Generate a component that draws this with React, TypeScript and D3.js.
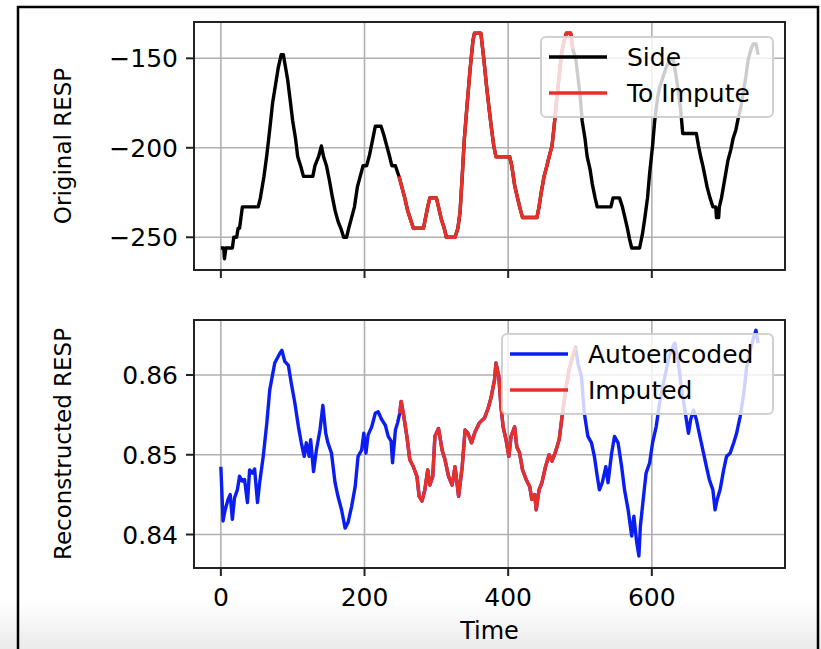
import * as d3 from "d3";

// original RESP signal (time, value) - step like
const sideT = [0, 4, 5, 7, 16, 18, 22, 24, 26, 28, 30, 52, 55, 60, 64, 68, 72, 76, 80, 84, 87, 90, 93, 97, 100, 104, 107, 111, 115, 128, 131, 136, 140, 143, 147, 151, 155, 159, 163, 167, 171, 175, 178, 182, 186, 190, 194, 198, 203, 207, 211, 215, 223, 227, 231, 235, 238, 243, 248, 252, 256, 260, 264, 268, 282, 285, 288, 291, 300, 303, 307, 311, 314, 326, 330, 333, 336, 339, 343, 347, 351, 353, 362, 366, 370, 374, 377, 380, 383, 402, 405, 409, 413, 416, 420, 440, 443, 446, 450, 454, 457, 461, 464, 467, 471, 474, 478, 481, 487, 490, 494, 497, 500, 503, 507, 510, 514, 517, 521, 524, 543, 546, 555, 559, 562, 566, 569, 572, 583, 587, 590, 594, 597, 601, 604, 608, 611, 616, 620, 625, 630, 633, 636, 640, 643, 662, 665, 668, 671, 674, 677, 681, 685, 689, 690, 693, 694, 697, 700, 703, 706, 710, 713, 717, 720, 724, 727, 731, 734, 738, 741, 745, 748];
const sideV = [-256, -256, -262, -256, -256, -250, -250, -245, -245, -239, -233, -233, -228, -216, -204, -190, -175, -165, -155, -148, -148, -155, -162, -175, -185, -195, -205, -210, -216, -216, -210, -205, -199, -205, -210, -218, -227, -235, -241, -245, -250, -250, -245, -239, -233, -222, -216, -210, -210, -204, -196, -188, -188, -193, -199, -205, -210, -210, -216, -222, -228, -235, -240, -245, -245, -239, -233, -228, -228, -233, -240, -245, -250, -250, -245, -236, -216, -195, -175, -156, -140, -136, -136, -150, -166, -180, -190, -199, -205, -205, -210, -221, -228, -233, -239, -239, -233, -225, -216, -210, -205, -199, -188, -175, -160, -148, -140, -136, -136, -145, -150, -160, -170, -185, -195, -205, -212, -220, -228, -233, -233, -228, -228, -233, -238, -245, -251, -256, -256, -248, -240, -228, -214, -199, -185, -172, -166, -160, -155, -151, -151, -158, -166, -178, -192, -192, -199, -205, -210, -216, -222, -228, -233, -233, -239, -239, -233, -228, -221, -214, -207, -201, -195, -190, -184, -177, -170, -160, -151, -145, -142, -142, -148];
const imputeRange = [248, 490];

// reconstructed RESP (autoencoder output)
const recT = [0, 3, 6, 10, 13, 16, 19, 23, 26, 30, 33, 37, 40, 44, 47, 51, 54, 59, 64, 68, 75, 82, 85, 89, 94, 98, 103, 108, 112, 116, 119, 123, 125, 129, 133, 138, 142, 146, 149, 154, 159, 163, 168, 173, 177, 182, 187, 191, 196, 199, 202, 205, 210, 215, 219, 224, 229, 233, 237, 239, 243, 246, 249, 251, 254, 259, 263, 268, 273, 276, 280, 284, 288, 291, 295, 298, 303, 308, 312, 317, 322, 326, 331, 336, 340, 344, 349, 354, 360, 367, 372, 376, 381, 383, 387, 390, 393, 397, 401, 404, 409, 412, 416, 420, 425, 430, 433, 437, 439, 443, 447, 452, 457, 461, 466, 471, 475, 480, 485, 491, 494, 497, 502, 506, 511, 516, 520, 524, 527, 531, 536, 539, 544, 548, 553, 558, 562, 567, 572, 575, 579, 582, 584, 588, 592, 597, 601, 606, 610, 615, 620, 624, 629, 632, 637, 641, 646, 651, 654, 658, 662, 666, 671, 676, 680, 685, 688, 691, 695, 700, 704, 709, 714, 718, 723, 728, 732, 737, 742, 745, 748];
const recV = [0.8485, 0.8417, 0.8431, 0.8444, 0.845, 0.8419, 0.8446, 0.8456, 0.8473, 0.8467, 0.8469, 0.844, 0.8481, 0.8477, 0.8482, 0.844, 0.8465, 0.8498, 0.854, 0.8581, 0.8615, 0.8627, 0.8631, 0.8617, 0.8612, 0.859, 0.8565, 0.8535, 0.8515, 0.8498, 0.8515, 0.8498, 0.8519, 0.8479, 0.8506, 0.8531, 0.8562, 0.8527, 0.8515, 0.8502, 0.8465, 0.8448, 0.8431, 0.8408, 0.8415, 0.8435, 0.846, 0.8498, 0.8506, 0.8527, 0.8502, 0.8525, 0.8535, 0.8552, 0.8554, 0.8544, 0.8537, 0.8523, 0.8517, 0.849, 0.8531, 0.854, 0.8552, 0.8567, 0.8552, 0.8523, 0.8494, 0.8485, 0.8473, 0.8448, 0.8442, 0.8456, 0.8481, 0.8462, 0.8473, 0.8523, 0.8533, 0.8506, 0.8494, 0.8473, 0.8462, 0.8485, 0.8448, 0.8485, 0.8531, 0.8527, 0.8515, 0.8529, 0.854, 0.8546, 0.8558, 0.8571, 0.8594, 0.8615, 0.8598, 0.856, 0.8535, 0.8519, 0.8498, 0.8523, 0.8535, 0.851, 0.8502, 0.8481, 0.8469, 0.846, 0.8444, 0.845, 0.8431, 0.8456, 0.8465, 0.8485, 0.85, 0.8492, 0.8504, 0.8519, 0.8548, 0.8581, 0.8608, 0.8627, 0.8635, 0.8615, 0.8598, 0.8552, 0.8523, 0.8515, 0.8498, 0.8473, 0.8456, 0.8465, 0.8485, 0.8465, 0.8502, 0.8523, 0.8515, 0.8485, 0.8456, 0.8431, 0.8398, 0.8423, 0.839, 0.8373, 0.841, 0.8444, 0.8477, 0.849, 0.8515, 0.8535, 0.856, 0.8585, 0.8606, 0.8623, 0.8635, 0.864, 0.8615, 0.8585, 0.8556, 0.8527, 0.8544, 0.8556, 0.8544, 0.8527, 0.8506, 0.8485, 0.8469, 0.8456, 0.8431, 0.8444, 0.8456, 0.8481, 0.8498, 0.8502, 0.8515, 0.8527, 0.8548, 0.8577, 0.861, 0.8631, 0.8648, 0.8656, 0.864];
const imputedRange = [249, 494];

const xTicks = [0, 200, 400, 600];
const topTicks = [-150, -200, -250];
const botTicks = [0.86, 0.85, 0.84];

const W = 821, H = 649;
const left = 194, right = 785;
const topBox = [22, 270];
const botBox = [320, 568];
const FONT = "DejaVu Sans, sans-serif";
const BLACK = "#000000", RED = "#e8302a", BLUE = "#0a1ef2";

type Pt = [number, number];

function Panel({ t, v, range, base, hi, yDomain, yRange, yTicks, fmt, names, legend, showX }: any) {
  const x = d3.scaleLinear().domain([-37.4, 785.4]).range([left, right]);
  const y = d3.scaleLinear().domain(yDomain).range(yRange);
  const pts: Pt[] = t.map((d: number, i: number) => [d, v[i]]);
  const part = pts.filter((p) => p[0] >= range[0] && p[0] <= range[1]);
  const line = d3.line<Pt>().x((p) => x(p[0])).y((p) => y(p[1]));
  const [y0, y1] = yRange;
  const lx = legend[0], ly = legend[1], lw = legend[2];
  return (
    <g>
      <defs>
        <clipPath id={"clip" + y1}>
          <rect x={left} y={y1} width={right - left} height={y0 - y1} />
        </clipPath>
      </defs>
      {xTicks.map((d) => (
        <line key={"gx" + d} x1={x(d)} x2={x(d)} y1={y1} y2={y0} stroke="#b0b0b0" strokeWidth={1.6} />
      ))}
      {yTicks.map((d: number) => (
        <line key={"gy" + d} x1={left} x2={right} y1={y(d)} y2={y(d)} stroke="#b0b0b0" strokeWidth={1.6} />
      ))}
      <g clipPath={`url(#clip${y1})`}>
        <path d={line(pts) || ""} fill="none" stroke={base} strokeWidth={3.4} strokeLinejoin="round" />
        <path d={line(part) || ""} fill="none" stroke={hi} strokeWidth={3.4} strokeLinejoin="round" />
      </g>
      <rect x={left} y={y1} width={right - left} height={y0 - y1} fill="none" stroke="#222" strokeWidth={2} />
      {xTicks.map((d) => (
        <line key={"tx" + d} x1={x(d)} x2={x(d)} y1={y0} y2={y0 + 8} stroke="#222" strokeWidth={2} />
      ))}
      {showX && xTicks.map((d) => (
        <text key={"lx" + d} x={x(d)} y={y0 + 38} textAnchor="middle" fontFamily={FONT} fontSize={25}>{d}</text>
      ))}
      {yTicks.map((d: number) => (
        <g key={"ty" + d}>
          <line x1={left - 8} x2={left} y1={y(d)} y2={y(d)} stroke="#222" strokeWidth={2} />
          <text x={left - 16} y={y(d)} dy="0.36em" textAnchor="end" fontFamily={FONT} fontSize={25}>{fmt(d)}</text>
        </g>
      ))}
      <text transform={`translate(71,${(y0 + y1) / 2}) rotate(-90)`} textAnchor="middle" fontFamily={FONT} fontSize={23}>{names[0]}</text>
      <g>
        <rect x={lx} y={ly} width={lw} height={80} rx={5} fill="white" fillOpacity={0.8} stroke="#d0d0d0" strokeWidth={2} />
        <line x1={lx + 8} x2={lx + 66} y1={ly + 20} y2={ly + 20} stroke={base} strokeWidth={3.4} />
        <line x1={lx + 8} x2={lx + 66} y1={ly + 56} y2={ly + 56} stroke={hi} strokeWidth={3.4} />
        <text x={lx + 86} y={ly + 20} dy="0.36em" fontFamily={FONT} fontSize={25}>{names[1]}</text>
        <text x={lx + 86} y={ly + 56} dy="0.36em" fontFamily={FONT} fontSize={25}>{names[2]}</text>
      </g>
    </g>
  );
}

export default function App() {
  return (
    <svg width={W} height={H} style={{ position: "absolute", left: 0, top: 0, background: "white" }}>
      <defs>
        <linearGradient id="fade" x1="0" x2="0" y1="0" y2="1">
          <stop offset="0" stopColor="#ffffff" />
          <stop offset="1" stopColor="#ebebeb" />
        </linearGradient>
      </defs>
      <rect x={0} y={600} width={W} height={49} fill="url(#fade)" />
      <path d={`M18,${H} V7 H818 V${H}`} fill="none" stroke="#000" strokeWidth={2.5} />
      <Panel t={sideT} v={sideV} range={imputeRange} base={BLACK} hi={RED}
        yDomain={[-268.3, -129.7]} yRange={[topBox[1], topBox[0]]} yTicks={topTicks}
        fmt={(d: number) => d3.format("d")(d).replace("-", "\u2212")}
        names={["Original RESP", "Side", "To Impute"]} legend={[541, 37, 232]} showX={false} />
      <Panel t={recT} v={recV} range={imputedRange} base={BLUE} hi={RED}
        yDomain={[0.8358, 0.8669]} yRange={[botBox[1], botBox[0]]} yTicks={botTicks}
        fmt={d3.format(".2f")}
        names={["Reconstructed RESP", "Autoencoded", "Imputed"]} legend={[502, 334, 271]} showX={true} />
      <text x={(left + right) / 2} y={639} textAnchor="middle" fontFamily={FONT} fontSize={24}>Time</text>
    </svg>
  );
}
